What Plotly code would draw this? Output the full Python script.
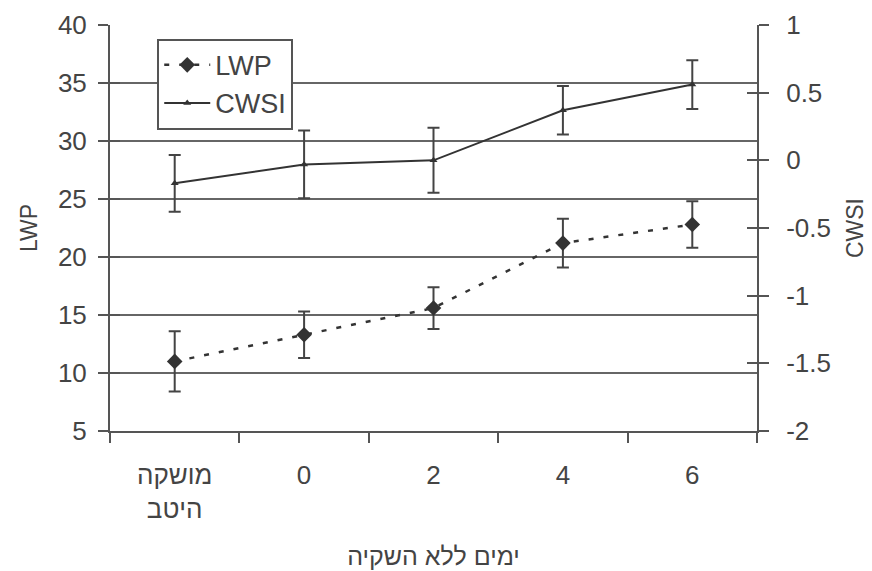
import plotly.graph_objects as go

categories = ["מושקה<br>היטב", "0", "2", "4", "6"]
lwp = [11.0, 13.3, 15.6, 21.2, 22.8]
lwp_err = [2.6, 2.0, 1.8, 2.1, 2.0]
cwsi = [-0.17, -0.03, 0.0, 0.37, 0.56]
cwsi_err = [0.21, 0.25, 0.24, 0.18, 0.18]

left_ticks = [5, 10, 15, 20, 25, 30, 35, 40]
right_ticks = [-2, -1.5, -1, -0.5, 0, 0.5, 1]
right_labels = ["-2", "-1.5", "-1", "-0.5", "0", "0.5", "1"]

FONT = "Liberation Sans, Arial, sans-serif"
TXT = "#444444"
AX = "#555555"
DARK = "#333333"

fig = go.Figure()
fig.add_trace(go.Scatter(
    x=categories, y=lwp, name="LWP", mode="lines+markers",
    line=dict(color=DARK, width=2.5, dash="5px,10px"),
    marker=dict(symbol="diamond", size=12, color=DARK),
    error_y=dict(type="data", array=lwp_err, color="#444444", thickness=2, width=6),
    yaxis="y",
))
fig.add_trace(go.Scatter(
    x=categories, y=cwsi, name="CWSI", mode="lines+markers",
    line=dict(color=DARK, width=2),
    marker=dict(symbol="triangle-up", size=7, color=DARK),
    error_y=dict(type="data", array=cwsi_err, color="#444444", thickness=2, width=6),
    yaxis="y2",
))

# page body has an 8px default margin, so the figure is offset by 8px
fig.update_layout(
    width=864, height=563,
    margin=dict(l=102, r=115, t=17, b=140, autoexpand=False),
    paper_bgcolor="white", plot_bgcolor="white",
    font=dict(family=FONT, size=26, color=TXT),
    showlegend=True,
    legend=dict(
        x=0.073, y=0.966, xanchor="left", yanchor="top",
        bgcolor="white", bordercolor=AX, borderwidth=2,
        font=dict(size=27, color=TXT), tracegroupgap=0,
        itemwidth=46, entrywidth=145,
    ),
    xaxis=dict(
        type="category", categoryorder="array", categoryarray=categories,
        range=[-0.5, 4.5], tickson="boundaries", automargin=False,
        ticks="outside", ticklen=10, tickwidth=2, tickcolor=AX,
        showline=True, linecolor=AX, linewidth=2,
        showgrid=False, tickfont=dict(size=26, color=TXT),
        ticklabelstandoff=20,
        title=dict(text="ימים ללא השקיה", font=dict(size=25, color=TXT), standoff=24),
    ),
    yaxis=dict(
        range=[5, 40], tickvals=left_ticks, automargin=False,
        ticks="outside", ticklen=10, tickwidth=2, tickcolor=AX,
        showline=True, linecolor=AX, linewidth=2,
        showgrid=True, gridcolor="#666666", gridwidth=2,
        zeroline=False, ticklabelstandoff=6,
        tickfont=dict(size=26, color=TXT),
        title=dict(text="LWP", font=dict(size=23, color=TXT), standoff=14),
    ),
    yaxis2=dict(
        range=[-2, 1], tickvals=right_ticks, ticktext=right_labels,
        overlaying="y", side="right", anchor="x", automargin=False,
        ticks="outside", ticklen=10, tickwidth=2, tickcolor=AX,
        showline=True, linecolor=AX, linewidth=2,
        showgrid=False, zeroline=False, ticklabelstandoff=12,
        tickfont=dict(size=26, color=TXT),
        title=dict(text="CWSI", font=dict(size=23, color=TXT), standoff=17),
    ),
    yaxis3=dict(
        range=[5, 40], tickvals=left_ticks, overlaying="y", side="left", anchor="x",
        ticks="inside", ticklen=10, tickwidth=2, tickcolor=AX, automargin=False,
        showticklabels=False, showgrid=False, zeroline=False, showline=False,
    ),
    yaxis4=dict(
        range=[-2, 1], tickvals=right_ticks, overlaying="y", side="right", anchor="x",
        ticks="inside", ticklen=10, tickwidth=2, tickcolor=AX, automargin=False,
        showticklabels=False, showgrid=False, zeroline=False, showline=False,
    ),
)
fig.add_trace(go.Scatter(x=[categories[0]], y=[None], yaxis="y3", showlegend=False, hoverinfo="skip"))
fig.add_trace(go.Scatter(x=[categories[0]], y=[None], yaxis="y4", showlegend=False, hoverinfo="skip"))

fig.write_html("out.html")
